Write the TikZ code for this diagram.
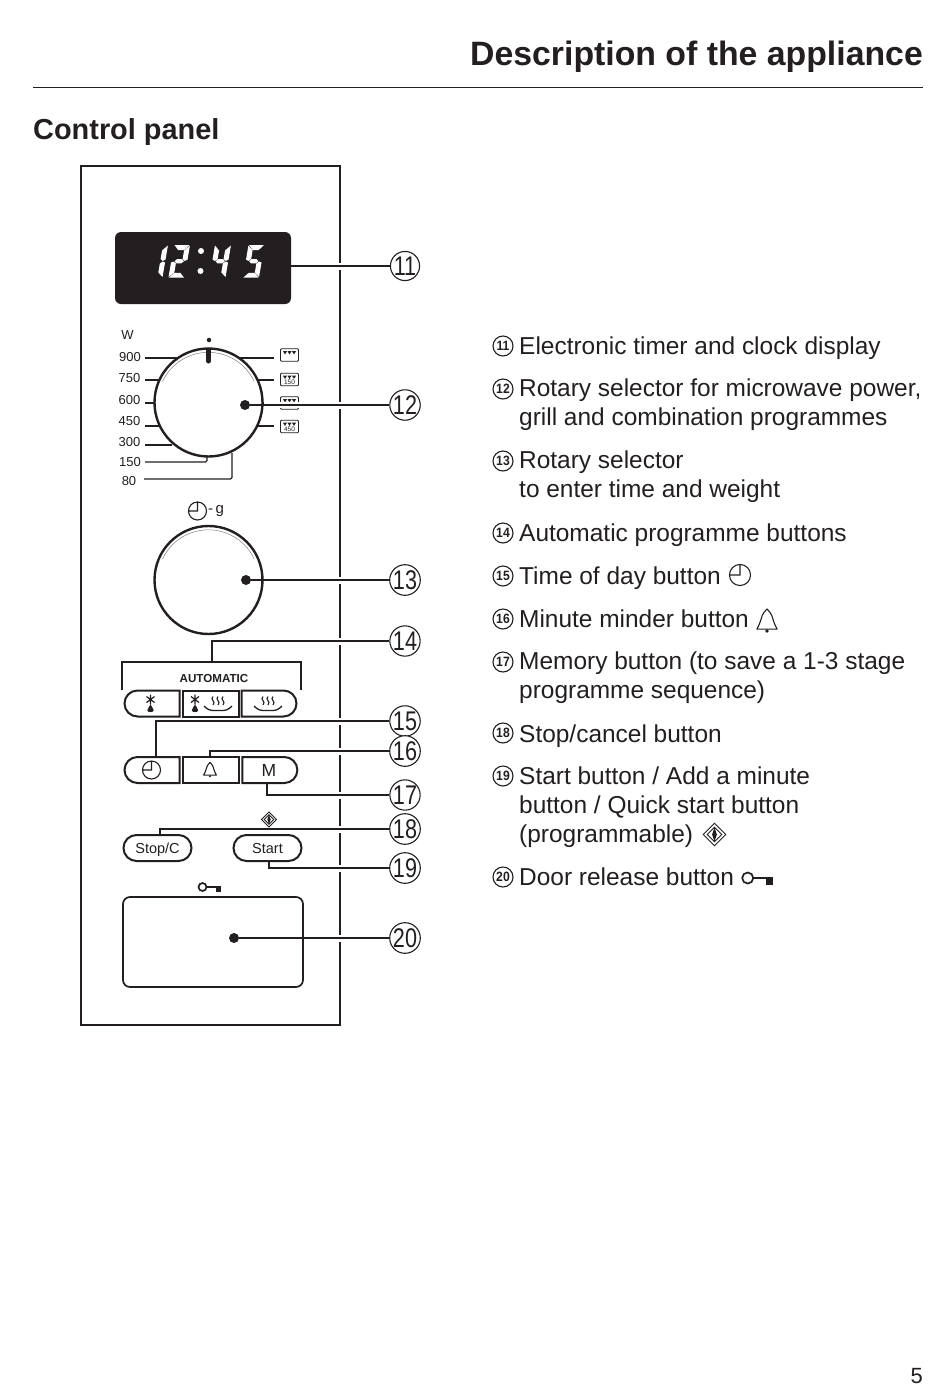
\documentclass[tikz,border=0pt]{standalone}
\usepackage{fontspec}
\setmainfont{Liberation Sans}
\usetikzlibrary{shapes.misc,calc}
\definecolor{ink}{HTML}{231F20}
\newcommand\SegA{\fill[white] (0.5,0)--(15.5,0)--(11,5)--(5,5)--cycle;}
\newcommand\SegB{\fill[white] (16,0.5)--(16,14.5)--(13.5,16)--(11,14)--(11,5.5)--cycle;}
\newcommand\SegC{\fill[white] (16,32)--(16,17.5)--(13.5,16.5)--(11,18.5)--(11,27.5)--cycle;}
\newcommand\SegD{\fill[white] (0.5,32.5)--(15.5,32.5)--(11,27.8)--(5,27.8)--cycle;}
\newcommand\SegE{\fill[white] (0,32)--(0,17.5)--(2.5,16.5)--(5,18.5)--(5,27.5)--cycle;}
\newcommand\SegF{\fill[white] (0,0.5)--(0,14.5)--(2.5,16)--(5,14)--(5,5.5)--cycle;}
\newcommand\SegG{\fill[white] (3.4,16.2)--(5.6,14)--(10.4,14)--(12.6,16.2)--(10.4,18.4)--(5.6,18.4)--cycle;}
\newcommand\SegDigit[2]{\begin{scope}[shift={(#1,245)},xslant=.17]\foreach \s in {#2}{\csname Seg\s\endcsname}\end{scope}}
\newcommand\OvenIcon[3]{\begin{scope}[shift={(#1,#2)}]
  \draw[ink,line width=.8,rounded corners=1] (-9,-6.2) rectangle (9,6.2);
  \foreach \q in {-4.5,0,4.5}{\fill[ink] (\q-2,-3.8)--(\q+2,-3.8)--(\q,-.6)--cycle;}
  #3\end{scope}}
\tikzset{
  x=1pt,y=-1pt,
  leader/.style={draw=ink,line width=1.9,line cap=butt},
  tick/.style={draw=ink,line width=1.2},
  callout/.style={circle,draw=ink,line width=1.1,minimum size=27,inner sep=0,fill=white},
  marker/.style={circle,draw=ink,line width=1.1,minimum size=20,inner sep=0,font=\fontsize{13.5}{13.5}\selectfont\bfseries,text=ink},
  dot/.style={circle,fill=ink,inner sep=0,minimum size=#1},
  body/.style={anchor=base west,inner sep=0,align=left,text=ink,font=\fontsize{24.45}{29}\selectfont},
  scalelabel/.style={inner sep=0,text=ink,font=\fontsize{13}{14}\selectfont},
  btn/.style={draw=ink,line width=2,inner sep=0,minimum height=26,text=ink,fill=white},
  leftbtn/.style={btn,rounded rectangle,rounded rectangle east arc=none,minimum width=55},
  midbtn/.style={btn,rectangle,minimum width=56},
  rightbtn/.style={btn,rounded rectangle,rounded rectangle west arc=none,minimum width=55},
  clockicon/.pic={\draw[ink,line width=1.1] (0,0) circle (9) (0,-9)--(0,0)--(-9,0);},
  bellicon/.pic={\draw[ink,line width=1.1,line join=round] (0,-9) .. controls (-1,-7.5) and (-3.5,-6) .. (-4.5,-1) .. controls (-5,1.5) and (-6.5,4) .. (-7.5,6) -- (7.5,6) .. controls (6.5,4) and (5,1.5) .. (4.5,-1) .. controls (3.5,-6) and (1,-7.5) .. (0,-9);
    \fill[ink] (0,7.4) circle (1.4);},
  diamondicon/.pic={\draw[ink,line width=.9] (0,-7.5)--(7.5,0)--(0,7.5)--(-7.5,0)--cycle (0,-4.8)--(4.8,0)--(0,4.8)--(-4.8,0)--cycle;
    \fill[ink] (0,-4.8)--(1.6,0)--(0,4.8)--(-1.6,0)--cycle;},
  keyicon/.pic={\draw[ink,line width=1.7] (-6,0) circle (4); \draw[ink,line width=2.2] (-2,0)--(12,0); \fill[ink] (7.5,0)--(12.5,0)--(12.5,5)--(7.5,5)--cycle;},
  snowicon/.pic={\draw[ink,line width=1.2] (0,-5)--(0,5) (-4,-3)--(4,3) (-4,3)--(4,-3);
    \fill[ink] (0,5) .. controls (-.5,7) and (-3.2,8.5) .. (-3.2,10.8) .. controls (-3.2,13.2) and (3.2,13.2) .. (3.2,10.8) .. controls (3.2,8.5) and (.5,7) .. (0,5);},
  heaticon/.pic={\foreach \q in {-5,0,5}{\draw[ink,line width=1.1] (\q,-6.5) .. controls (\q-3.5,-3.5) and (\q+3.5,-1.5) .. (\q,2);}
    \draw[ink,line width=1.3,rounded corners=3.5] (-14,3)--(-9,7.5)--(9,7.5)--(14,3);}
}
\begin{document}
\begin{tikzpicture}
\useasboundingbox (0,0) rectangle (950,1385);
\fill[white] (0,0) rectangle (950,1385);

% headings
\node[anchor=base east,inner sep=0,text=ink,font=\fontsize{33.8}{36}\selectfont\bfseries] (title) at (923,65) {Description of the appliance};
\node[anchor=base west,inner sep=0,text=ink,font=\fontsize{28.9}{32}\selectfont\bfseries] (sub) at (33,139) {Control panel};
\coordinate (ruleL) at (33,87); \coordinate (ruleR) at (923,87);
\draw[ink,line width=1] (ruleL)--(ruleR);
\node[anchor=base east,inner sep=0,text=ink,font=\fontsize{22}{24}\selectfont] (pg) at (923,1383) {5};

% panel
\node[draw=ink,line width=2.6,minimum width=259,minimum height=859,inner sep=0] (panel) at (210.5,595.5) {};
\foreach \yy in {266,405,580,641,721,751,795,829,868,938}{\fill[white] (336,\yy-3.5) rectangle (344,\yy+3.5);}

% display
\node[fill=ink,rounded corners=6,minimum width=176,minimum height=72,inner sep=0] (disp) at (203,268) {};
\SegDigit{152}{B,C}
\SegDigit{174}{A,B,G,E,D}
\SegDigit{215}{F,G,B,C}
\SegDigit{248.5}{A,F,G,C,D}
\fill[white] (201,251) circle (3) (200.5,271) circle (3);

% rotary 1
\foreach \yy/\xa/\xb in {358/145/182,380/145/160,403/145/156,426/145/160,445/145/172}{\draw[tick] (\xa,\yy)--(\xb,\yy);}
\foreach \yy/\xb in {358/274,380/274,403/274,426/274}{\draw[tick] (240,\yy)--(\xb,\yy);}
\node[circle,draw=ink,line width=2.4,fill=white,minimum size=108,inner sep=0] (knobA) at (208.5,402.5) {};
\draw[gray,line width=.5] (162.5,381.5) arc[start angle=155,end angle=25,radius=50.6,y radius=-50.6];
\coordinate (tA) at (207,457); \coordinate (tA2) at (145,462);
\draw[tick,rounded corners=1.5] (tA)--(tA|-tA2)--(tA2);
\coordinate (tB) at (232,453); \coordinate (tB2) at (144,479);
\draw[tick,rounded corners=1.5] (tB)--(tB|-tB2)--(tB2);
\draw[ink,line width=5,line cap=round] (208.5,350)--(208.5,361);
\node[dot=4.5] (ptr) at (209,340) {};
\node[scalelabel] (lW) at (127.5,335) {W};
\node[scalelabel] (l900) at (130,357) {900};
\node[scalelabel] (l750) at (129.5,378) {750};
\node[scalelabel] (l600) at (129.5,400) {600};
\node[scalelabel] (l450) at (129.5,421) {450};
\node[scalelabel] (l300) at (129.5,442) {300};
\node[scalelabel] (l150) at (130,462) {150};
\node[scalelabel] (l80) at (129,481) {80};
\OvenIcon{289.5}{355}{}
\OvenIcon{289.5}{379.5}{\node[inner sep=0,text=ink,font=\fontsize{6.5}{7}\selectfont] at (0,2.7) {150};}
\OvenIcon{289.5}{403}{}
\OvenIcon{289.5}{426.5}{\node[inner sep=0,text=ink,font=\fontsize{6.5}{7}\selectfont] at (0,2.7) {450};}
\fill[white] (264,401.5) rectangle (300,408);

% rotary 2
\pic at (197.5,511) {clockicon};
\node[anchor=west,inner sep=0,text=ink,font=\fontsize{15}{16}\selectfont] (lg) at (208,511) {-\,g};
\node[circle,draw=ink,line width=2.4,minimum size=108,inner sep=0] (knobB) at (208.5,580) {};
\draw[gray,line width=.5] (162.5,559) arc[start angle=155,end angle=25,radius=50.6,y radius=-50.6];

% automatic
\coordinate (brL) at (122,690); \coordinate (brR) at (301,690); \coordinate (brT) at (212,662);
\draw[leader] (brL)--(brL|-brT)--(brR|-brT)--(brR);
\node[inner sep=0,text=ink,font=\fontsize{11.6}{14}\selectfont\bfseries] (auto) at (214,678) {AUTOMATIC};
\node[leftbtn] (b1) at (152,703.5) {};
\node[midbtn] (b2) at (210.5,703.5) {};
\node[rightbtn] (b3) at (269,703.5) {};
\pic at (150.5,699.5) {snowicon};
\pic at (195,699.5) {snowicon};
\pic at (218,703) {heaticon};
\pic at (268,703) {heaticon};

% button row 2
\node[leftbtn] (b15) at (152,770) {};
\node[midbtn] (b16) at (210.5,770) {};
\node[rightbtn,font=\fontsize{17.5}{18}\selectfont,text height=13,text depth=0] (b17) at (269,770) {M};
\pic at (151.5,770) {clockicon};
\pic[scale=.85] at (210,770) {bellicon};

% stop / start
\node[btn,rounded rectangle,minimum width=68,font=\fontsize{14.5}{16}\selectfont,text height=10.5,text depth=0] (b18) at (157.5,848) {Stop/C};
\node[btn,rounded rectangle,minimum width=68,font=\fontsize{14.5}{16}\selectfont,text height=10.5,text depth=0] (b19) at (267.5,848) {Start};
\pic at (269,819.5) {diamondicon};

% door
\pic at (208.5,887) {keyicon};
\node[draw=ink,line width=1.7,rounded corners=7,minimum width=180,minimum height=90,inner sep=0] (door) at (213,942) {};

% callouts
\foreach \n/\yy in {11/266,12/405,13/580,14/641,15/721,16/751,17/795,18/829,19/868,20/938}{
  \node[callout] (c\n) at (405,\yy) {\fontsize{27}{27}\selectfont\color{ink}\scalebox{.8}[1]{\n}};
}
% anchors
\node[dot=10] (d12) at (245,405) {};
\node[dot=10] (d13) at (246,580) {};
\node[dot=10] (d20) at (234,938) {};
\coordinate (a15) at (156,757);
\coordinate (a16) at (210,757);
\coordinate (a17) at (267,783);
\coordinate (a18) at (160,835);
\coordinate (a19) at (269,861);

% connectors
\draw[leader] (disp.east|-c11)--(c11);
\draw[leader] (d12)--(c12);
\draw[leader] (d13)--(c13);
\draw[leader] (brT)|-(c14);
\draw[leader] (a15)|-(c15);
\draw[leader] (a16)|-(c16);
\draw[leader] (a17)|-(c17);
\draw[leader] (a18)|-(c18);
\draw[leader] (a19)|-(c19);
\draw[leader] (d20)--(c20);

% legend
\foreach \n/\yy in {11/346,12/389,13/461,14/533,15/576,16/619,17/662,18/733,19/776,20/877}{
  \node[marker] (m\n) at (503,\yy) {\scalebox{.9}[1]{\n}};
}
\node[body] (t11) at (519,354) {Electronic timer and clock display};
\node[body,anchor=north west] (t12) at (519,379) {Rotary selector for microwave power,\\grill and combination programmes};
\node[body,anchor=north west] (t13) at (519,451) {Rotary selector\\to enter time and weight};
\node[body] (t14) at (519,541) {Automatic programme buttons};
\node[body] (t15) at (519,584) {Time of day button};
\node[body] (t16) at (519,627) {Minute minder button};
\node[body,anchor=north west] (t17) at (519,652) {Memory button (to save a 1-3 stage\\programme sequence)};
\node[body] (t18) at (519,742) {Stop/cancel button};
\node[body,anchor=north west] (t19) at (519,767) {Start button / Add a minute\\button / Quick start button\\(programmable)};
\node[body] (t20) at (519,885) {Door release button};
\pic[scale=1.17] at (740,575) {clockicon};
\pic[scale=1.35] at (767,621) {bellicon};
\pic[scale=1.5] at (714.5,834.5) {diamondicon};
\pic[scale=1.38] at (756,878) {keyicon};
\end{tikzpicture}
\end{document}
